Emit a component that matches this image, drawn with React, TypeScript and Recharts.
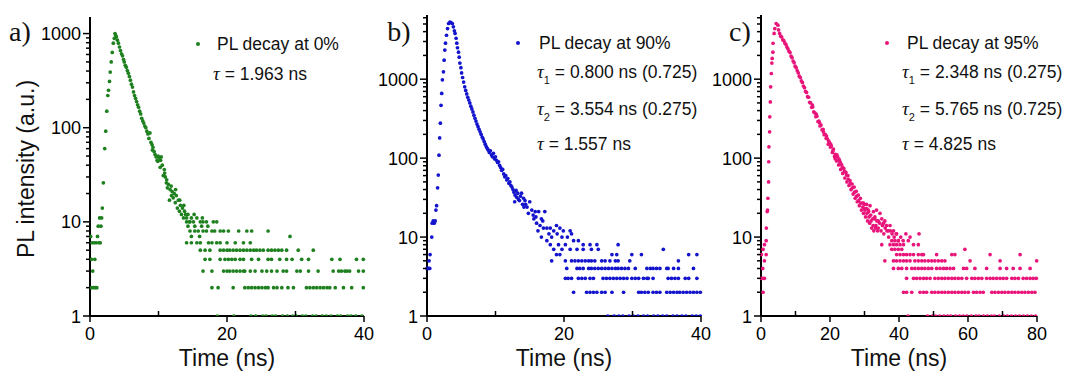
import { ScatterChart, Scatter, XAxis, YAxis } from "recharts"

const sans = '"Liberation Sans", Arial, sans-serif'
const serif = '"Liberation Serif", "Times New Roman", serif'

// axis ticks
const xTicks40 = [0, 10, 20, 30, 40]
const xTicks80 = [0, 10, 20, 30, 40, 50, 60, 70, 80]
const yTicksA = [1, 2, 3, 4, 5, 6, 7, 8, 9, 10, 20, 30, 40, 50, 60, 70, 80, 90, 100, 200, 300, 400, 500, 600, 700, 800, 900, 1000]
const yTicksBC = [...yTicksA, 2000, 3000, 4000, 5000, 6000]
const yLabels = [1, 10, 100, 1000]

// a) 0% -- [time ns, counts]
const curveA: [number, number][] = [
  [0.1, 7], [0.2, 2], [0.2, 4], [0.3, 6], [0.4, 3], [0.5, 2], [0.6, 6], [0.7, 4], [0.8, 2], [0.9, 6],
  [1.0, 2], [1.1, 7], [1.2, 9], [1.3, 6], [1.4, 11], [1.5, 6], [1.6, 9], [1.7, 11], [1.8, 14], [1.95, 26],
  [2.15, 60], [2.3, 92], [2.45, 150], [2.6, 220], [2.7, 250], [2.85, 310], [2.95, 390], [3.1, 500], [3.25, 630], [3.4, 790],
  [3.55, 890], [3.65, 1000], [3.75, 960], [3.85, 920], [4.0, 850], [4.15, 790], [4.3, 720], [4.45, 660], [4.6, 610], [4.75, 580],
  [4.9, 530], [5.0, 500], [5.15, 460], [5.3, 440], [5.45, 405], [5.6, 380], [5.75, 350], [5.9, 320], [6.05, 290], [6.2, 270],
  [6.35, 240], [6.5, 220], [6.65, 205], [6.8, 190], [6.95, 175], [7.1, 165], [7.25, 150], [7.4, 140], [7.55, 126], [7.7, 118],
  [7.85, 112], [8.0, 104], [8.15, 100], [8.3, 92], [8.45, 86], [8.6, 77], [8.75, 88], [8.9, 70], [9.05, 66], [9.2, 62],
  [9.35, 56], [9.5, 52], [9.65, 49], [9.8, 45], [9.95, 50], [10.1, 48], [10.25, 38], [10.4, 49], [10.55, 40], [10.7, 31],
  [10.85, 36], [11.0, 30], [11.15, 26], [11.3, 23], [11.45, 25], [11.6, 17], [11.7, 22], [11.85, 24], [12.0, 21], [12.15, 18],
  [12.3, 20], [12.45, 16], [12.6, 19], [12.75, 14], [12.9, 17], [13.05, 13], [13.2, 15], [13.35, 12], [13.5, 14], [13.65, 11],
  [13.8, 13], [13.95, 12], [14.1, 11], [14.3, 12], [14.5, 10], [14.8, 11], [15.2, 12], [15.6, 11], [16.4, 11],
  [9.1, 58], [9.9, 44], [10.3, 45], [10.9, 33], [11.2, 28], [11.9, 19], [12.5, 22], [13.1, 17], [13.7, 15],
]
const tailA: [number, number[]][] = [
  [10, [14.1, 14.6, 15.1, 16.1, 16.5, 17.0, 18.0, 18.5]],
  [9, [14.3, 15.3, 16.3, 17.2]],
  [8, [14.6, 15.3, 15.8, 16.5, 17.0, 17.8, 18.2, 19.0, 19.5, 20.2, 21.7, 22.9, 23.6, 26.0]],
  [7, [14.8, 16.0, 29.2]],
  [6, [14.1, 14.8, 15.6, 16.1, 17.3, 17.8, 18.5, 19.0, 20.0, 21.2, 22.4, 23.4]],
  [5, [16.1, 16.8, 17.5, 19.0, 19.5, 20.0, 20.4, 20.9, 21.4, 21.9, 22.4, 22.9, 23.4, 23.9, 24.3, 24.8, 25.3, 26.0, 26.5, 27.0, 27.5, 28.0, 28.7, 30.4, 32.6]],
  [4, [16.8, 17.5, 19.0, 19.7, 20.2, 20.7, 21.2, 21.9, 22.4, 23.6, 24.6, 26.0, 26.5, 27.7, 28.7, 29.5, 30.9, 31.9, 35.3, 36.5, 38.9, 39.9]],
  [3, [16.5, 17.8, 19.5, 20.0, 20.4, 20.9, 21.4, 21.9, 22.4, 22.6, 23.4, 24.1, 25.1, 25.8, 26.5, 27.3, 28.2, 28.7, 30.2, 30.7, 31.9, 33.3, 35.5, 36.3, 36.7, 37.2, 37.5, 37.9, 39.2, 39.9]],
  [2, [17.8, 18.7, 20.9, 22.6, 23.1, 23.6, 24.1, 24.6, 25.1, 25.6, 26.0, 26.8, 27.3, 28.0, 28.9, 29.7, 31.6, 32.1, 32.6, 33.1, 33.6, 34.1, 34.6, 35.0, 35.8, 37.0, 38.2, 39.9]],
  [1, [18.6, 21.0, 23.5, 24.2, 25.2, 25.7, 26.6, 27.1, 28.1, 28.8, 29.6, 30.1, 31.0, 31.5, 32.5, 33.0, 33.9, 34.5, 35.2, 36.1, 36.6, 37.6, 38.1, 38.8, 39.7]],
]

// b) 90%
const curveB: [number, number][] = [
  [0.0, 4], [0.2, 4], [0.4, 4], [0.3, 5], [0.45, 6], [0.7, 10], [0.75, 15], [0.9, 16], [1.05, 15], [1.2, 16],
  [1.3, 22], [1.4, 25], [1.55, 42], [1.65, 61], [1.75, 109], [1.85, 180], [1.95, 277], [2.05, 466], [2.15, 660], [2.25, 980],
  [2.4, 1240], [2.5, 1740], [2.6, 2340], [2.7, 2860], [2.85, 3600], [3.0, 4380], [3.15, 5070], [3.35, 5300], [3.5, 5200], [3.7, 5070],
  [3.85, 4600], [4.0, 4100], [4.1, 3800], [4.25, 3300], [4.35, 2860], [4.45, 2500], [4.6, 2200], [4.7, 1900], [4.8, 1600], [4.95, 1400],
  [5.05, 1200], [5.2, 1050], [5.35, 920], [5.5, 800], [5.65, 720], [5.8, 650], [5.95, 590], [6.1, 545], [6.25, 500], [6.4, 455],
  [6.55, 420], [6.7, 385], [6.85, 350], [7.0, 320], [7.15, 295], [7.3, 270], [7.45, 250], [7.6, 232], [7.75, 215], [7.9, 200],
  [8.05, 185], [8.2, 175], [8.35, 162], [8.5, 150], [8.65, 140], [8.8, 133], [8.95, 126], [9.1, 118], [9.25, 124], [9.4, 110],
  [9.55, 104], [9.7, 115], [9.85, 98], [10.0, 104], [10.15, 94], [10.3, 88], [10.45, 90], [10.6, 81], [10.75, 76], [10.9, 70],
  [11.05, 72], [11.2, 63], [11.35, 58], [11.5, 60], [11.65, 53], [11.8, 55], [11.95, 48], [12.1, 50], [12.25, 45], [12.4, 43],
  [12.55, 40], [12.7, 37], [12.8, 28], [12.85, 34], [13.0, 39], [13.1, 32], [13.25, 36], [13.35, 30], [13.5, 29], [13.65, 33],
  [13.8, 36], [13.95, 26], [14.1, 31], [14.3, 29], [14.15, 24], [14.6, 24], [15.0, 28], [15.3, 22], [15.8, 21], [16.3, 21],
  [14.8, 20], [15.5, 19], [16.7, 17], [17.2, 21], [16.0, 15], [16.5, 14], [17.0, 13], [17.5, 13], [18.0, 13], [18.5, 12],
  [18.9, 14], [19.4, 13], [19.9, 12], [20.9, 12], [19.7, 10], [18.2, 10], [16.7, 10], [17.5, 9], [19.2, 8], [21.4, 9],
  [22.1, 9], [22.8, 8], [23.8, 8], [24.8, 8], [20.2, 8], [18.0, 8], [18.5, 7], [19.7, 7], [20.9, 7], [21.9, 7],
  [22.8, 7], [24.0, 7], [25.0, 7], [15.9, 18], [16.9, 16], [14.4, 26], [15.6, 17], [17.8, 11], [19.0, 11], [20.5, 10],
  [21.1, 11], [16.2, 12],
]
const tailB: [number, number[]][] = [
  [8, [27.9]],
  [7, [34.5]],
  [6, [18.9, 19.4, 27.0, 27.7, 29.9, 31.3, 38.2, 39.4]],
  [5, [18.2, 20.2, 21.1, 21.6, 22.1, 22.6, 23.1, 23.6, 24.0, 24.5, 25.5, 26.0, 26.7, 27.5, 27.9, 29.6, 36.7]],
  [4, [20.4, 21.9, 22.3, 22.8, 23.6, 24.0, 24.5, 25.0, 25.5, 26.0, 26.5, 27.0, 27.5, 27.9, 28.4, 28.9, 29.4, 30.4, 32.1, 32.6, 33.0, 33.5, 34.0, 35.0, 35.2, 36.0, 36.7, 38.9]],
  [3, [20.2, 20.6, 21.1, 22.1, 22.6, 23.1, 23.8, 24.3, 25.7, 26.2, 26.7, 27.2, 27.7, 28.2, 28.7, 29.2, 29.9, 30.4, 30.9, 31.6, 32.1, 32.3, 33.0, 35.2, 35.7, 36.2, 36.7, 37.7, 38.2, 39.4]],
  [2, [21.4, 23.3, 23.8, 24.3, 24.8, 25.5, 26.0, 27.0, 28.7, 30.9, 31.3, 31.8, 32.3, 33.0, 33.5, 34.0, 35.0, 35.5, 36.0, 36.5, 36.9, 37.4, 37.9, 38.4, 38.9, 39.4, 39.9]],
  [1, [26.4, 27.3, 28.0, 28.6, 29.5, 30.1, 30.8, 31.6, 32.2, 33.1, 33.7, 34.4, 35.0, 35.9, 36.5, 37.2, 37.8, 38.7, 39.3, 39.9]],
]

// c) 95%
const curveC: [number, number][] = [
  [0.6, 2], [0.1, 3], [0.6, 3], [1.0, 3], [0.5, 4], [1.0, 5], [0.1, 6], [1.5, 6], [0.6, 7], [1.0, 8],
  [1.5, 9], [1.55, 13], [1.8, 21], [1.9, 22], [2.0, 31], [2.2, 50], [2.25, 90], [2.3, 139], [2.5, 215], [2.55, 333],
  [2.7, 515], [2.8, 800], [3.0, 1180], [3.15, 1600], [3.25, 1830], [3.45, 2200], [3.5, 2850], [3.8, 3800], [4.0, 4380], [4.4, 5070],
  [4.9, 4830], [5.1, 4200], [5.4, 3800], [5.7, 3500], [6.0, 3420], [6.3, 3150], [6.6, 3080], [6.9, 2880], [7.2, 2760], [7.5, 2560],
  [7.8, 2420], [8.1, 2260], [8.4, 2180], [8.7, 1960], [9.0, 1870], [9.3, 1700], [9.6, 1620], [9.9, 1460], [10.2, 1400], [10.5, 1280],
  [10.8, 1200], [11.1, 1090], [11.4, 1050], [11.7, 950], [12.0, 910], [12.3, 820], [12.6, 780], [12.9, 700], [13.2, 680], [13.5, 600],
  [13.8, 590], [14.1, 510], [14.4, 500], [14.7, 440], [15.0, 445], [15.3, 385], [15.6, 375], [15.9, 335], [16.2, 340], [16.5, 290],
  [16.8, 295], [17.1, 255], [17.4, 262], [17.7, 228], [18.0, 232], [18.3, 198], [18.6, 200], [18.9, 178], [19.2, 176], [19.5, 150],
  [19.8, 158], [20.1, 138], [20.4, 142], [20.7, 118], [21.0, 130], [21.3, 105], [21.6, 112], [21.9, 92], [22.2, 104], [22.5, 82],
  [22.8, 92], [23.1, 72], [23.4, 82], [23.7, 64], [24.0, 74], [24.3, 56], [24.6, 66], [24.9, 50], [25.2, 60], [25.5, 45],
  [25.8, 52], [26.1, 40], [26.4, 47], [26.7, 35], [27.0, 43], [27.3, 31], [27.6, 38], [27.9, 28], [28.2, 34], [28.5, 25],
  [28.8, 31], [29.1, 22], [29.4, 27], [29.7, 20], [30.0, 26], [30.3, 18], [30.6, 23], [30.9, 16], [31.2, 21], [31.5, 15],
  [31.8, 19], [32.1, 13], [32.4, 17], [32.7, 12], [33.0, 17], [33.3, 14], [33.6, 16], [34.0, 13], [34.4, 15], [34.8, 12],
  [35.2, 14], [35.6, 11], [36.0, 13], [36.5, 12], [37.0, 10], [37.5, 12], [38.0, 11], [38.6, 10], [39.2, 11], [39.8, 9],
  [40.5, 10], [41.2, 9], [42.0, 11], [43.2, 10], [45.8, 11],
  [14.9, 470], [16.0, 360], [17.0, 280], [18.1, 215], [19.0, 190], [19.6, 165], [20.2, 150], [20.9, 125], [21.5, 98], [22.0, 110],
  [22.6, 97], [23.0, 88], [23.6, 76], [24.2, 68], [24.8, 61], [25.3, 54], [25.9, 48], [26.5, 42], [27.1, 37], [27.7, 33],
  [28.3, 29], [28.9, 27], [29.5, 24], [30.1, 22], [30.7, 20], [31.3, 18], [31.9, 16], [32.5, 14], [33.2, 13], [33.8, 12],
  [29.7, 27], [30.6, 26], [31.6, 25], [30.1, 23], [31.1, 22], [32.6, 21], [33.5, 22], [34.5, 20], [33.0, 18], [35.0, 17],
  [35.9, 16], [34.0, 16], [35.5, 15], [36.4, 14], [37.4, 14], [36.9, 12], [38.4, 12], [39.3, 11],
]
const tailC: [number, number[]][] = [
  [9, [37.9, 38.8, 39.8, 42.7]],
  [8, [35.0, 37.4, 38.4, 39.3, 40.3, 41.3, 44.2, 45.6]],
  [7, [37.9, 38.8, 39.8, 40.8, 59.1]],
  [6, [39.3, 40.3, 41.3, 42.2, 43.2, 44.2, 45.6, 46.6, 47.1, 50.9, 55.3, 56.2, 66.4, 75.1]],
  [5, [35.9, 38.4, 39.3, 40.3, 41.3, 42.2, 43.2, 44.6, 45.6, 46.6, 47.5, 48.5, 49.5, 50.4, 51.4, 52.4, 53.3, 60.6, 69.3, 79.9]],
  [4, [38.4, 39.8, 40.8, 42.2, 43.7, 44.6, 45.6, 46.6, 47.5, 48.5, 49.5, 50.9, 51.9, 52.9, 53.8, 54.8, 55.8, 58.7, 59.6, 62.0, 65.4, 69.3, 71.2, 73.1, 75.1, 78.0]],
  [3, [42.2, 44.2, 45.1, 46.1, 47.1, 48.0, 49.0, 50.4, 51.4, 52.4, 53.3, 54.3, 55.3, 56.2, 57.2, 58.2, 59.6, 61.1, 62.0, 63.0, 64.0, 65.4, 66.4, 67.3, 68.3, 69.3, 70.2, 71.2, 72.7, 73.6, 74.6, 76.0, 77.0, 78.0, 78.9, 79.8]],
  [2, [41.3, 42.2, 43.7, 46.1, 47.1, 48.0, 49.5, 50.4, 51.4, 52.4, 53.3, 54.3, 55.3, 56.2, 57.2, 58.2, 59.1, 60.1, 61.6, 62.5, 63.5, 64.4, 66.9, 67.8, 68.8, 69.8, 70.7, 71.7, 72.7, 73.6, 74.6, 75.6, 76.5, 77.5, 78.5, 79.4]],
  [1, [42.6, 48.3, 49.7, 50.6, 51.8, 53.0, 54.1, 55.0, 56.4, 57.5, 58.6, 59.7, 61.0, 62.3, 63.2, 64.5, 65.6, 66.8, 67.7, 69.1, 70.3, 71.4, 72.6, 73.8, 74.9, 76.1, 77.2, 78.4, 79.6]],
]

type Pt = { t: number; n: number }

const toPoints = (curve: [number, number][], tail: [number, number[]][]): Pt[] => [
  ...curve.map(([t, n]) => ({ t, n })),
  ...tail.flatMap(([n, ts]) => ts.map((t) => ({ t, n }))),
]

function YTick(props: any) {
  const { x, y, payload } = props
  const v = payload.value
  const major = yLabels.includes(v)
  return (
    <g>
      <line x1={x} x2={x - (major ? 7 : 4)} y1={y} y2={y} stroke="#000" strokeWidth={1.5} />
      {major && (
        <text x={x - 9} y={y + 6.5} textAnchor="end" fontSize={18} fontFamily={sans} fill="#000">
          {v}
        </text>
      )}
    </g>
  )
}

function XTick(props: any) {
  const { x, y, payload } = props
  const v = payload.value
  const major = v % 20 === 0
  return (
    <g>
      <line x1={x} x2={x} y1={y} y2={major ? y + 6 : y - 5} stroke="#000" strokeWidth={1.5} />
      {major && (
        <text x={x} y={y + 23.5} textAnchor="middle" fontSize={18} fontFamily={sans} fill="#000">
          {v}
        </text>
      )}
    </g>
  )
}

type PanelProps = {
  left: number
  width: number
  axisW: number
  top: number
  right: number
  data: Pt[]
  color: string
  xMax: number
  xTicks: number[]
  yMax: number
  yTicks: number[]
}

function Panel({ left, width, axisW, top, right, data, color, xMax, xTicks, yMax, yTicks }: PanelProps) {
  return (
    <div style={{ position: "absolute", left, top: 0 }}>
      <ScatterChart width={width} height={376} margin={{ top, right, bottom: 0, left: 0 }}>
        <XAxis
          type="number"
          dataKey="t"
          domain={[0, xMax]}
          ticks={xTicks}
          interval={0}
          height={60}
          tickSize={0}
          tickMargin={0}
          tickLine={false}
          axisLine={{ stroke: "#000", strokeWidth: 2 }}
          tick={(p: any) => <XTick {...p} />}
        />
        <YAxis
          type="number"
          dataKey="n"
          scale="log"
          domain={[1, yMax]}
          allowDataOverflow
          ticks={yTicks}
          interval={0}
          width={axisW}
          tickSize={0}
          tickMargin={0}
          tickLine={false}
          axisLine={{ stroke: "#000", strokeWidth: 2 }}
          tick={(p: any) => <YTick {...p} />}
        />
        <Scatter
          data={data}
          fill={color}
          isAnimationActive={false}
          shape={(p: any) => <circle cx={p.cx} cy={p.cy} r={1.85} fill={color} />}
        />
      </ScatterChart>
    </div>
  )
}

const Tau = ({ sub }: { sub?: string }) => (
  <>
    <i style={{ fontFamily: serif, fontSize: 19 }}>τ</i>
    {sub && <span style={{ fontSize: 11, position: "relative", top: 6 }}>{sub}</span>}
  </>
)

function Line({ left, cy, children }: { left: number; cy: number; children: React.ReactNode }) {
  return (
    <div
      style={{
        position: "absolute",
        left,
        top: cy - 11,
        height: 22,
        lineHeight: "22px",
        fontSize: 17.5,
        fontFamily: sans,
        color: "#111",
        whiteSpace: "nowrap",
      }}
    >
      {children}
    </div>
  )
}

function Marker({ x, y, color }: { x: number; y: number; color: string }) {
  return (
    <div
      style={{ position: "absolute", left: x - 2, top: y - 2, width: 4, height: 4, borderRadius: 2, background: color }}
    />
  )
}

function Centered({ x, y, size, font, children, rotate }: any) {
  return (
    <div
      style={{
        position: "absolute",
        left: x,
        top: y,
        transform: `translate(-50%, -50%)${rotate ? " rotate(-90deg)" : ""}`,
        fontSize: size,
        fontFamily: font,
        lineHeight: `${size + 4}px`,
        whiteSpace: "nowrap",
        color: "#111",
      }}
    >
      {children}
    </div>
  )
}

const green = "#1e801e"
const blue = "#1414cc"
const pink = "#e8157a"

export default function App() {
  return (
    <div style={{ position: "absolute", left: 0, top: 0, width: 1072, height: 376, background: "#fff", overflow: "hidden" }}>
      <Panel left={0} width={380} axisW={90} top={17} right={16} data={toPoints(curveA, tailA)} color={green} xMax={40} xTicks={xTicks40} yMax={1500} yTicks={yTicksA} />
      <Panel left={375} width={345} axisW={52} top={15} right={19} data={toPoints(curveB, tailB)} color={blue} xMax={40} xTicks={xTicks40} yMax={6500} yTicks={yTicksBC} />
      <Panel left={705} width={367} axisW={56} top={15} right={35} data={toPoints(curveC, tailC)} color={pink} xMax={80} xTicks={xTicks80} yMax={6500} yTicks={yTicksBC} />

      <Centered x={26} y={169} size={23} font={sans} rotate>PL intensity (a.u.)</Centered>
      <Centered x={227} y={358} size={23} font={sans}>Time (ns)</Centered>
      <Centered x={564} y={358} size={23} font={sans}>Time (ns)</Centered>
      <Centered x={899} y={358} size={23} font={sans}>Time (ns)</Centered>

      <Centered x={20} y={32} size={28} font={serif}>a)</Centered>
      <Centered x={399} y={32} size={28} font={serif}>b)</Centered>
      <Centered x={740} y={32} size={28} font={serif}>c)</Centered>

      <Marker x={198} y={44} color={green} />
      <Line left={217} cy={44}>PL decay at 0%</Line>
      <Line left={213} cy={74}><Tau /> = 1.963 ns</Line>

      <Marker x={518} y={43} color={blue} />
      <Line left={539} cy={43}>PL decay at 90%</Line>
      <Line left={537} cy={72}><Tau sub="1" /> = 0.800 ns (0.725)</Line>
      <Line left={537} cy={109}><Tau sub="2" /> = 3.554 ns (0.275)</Line>
      <Line left={537} cy={144}><Tau /> = 1.557 ns</Line>

      <Marker x={887} y={43} color={pink} />
      <Line left={907} cy={43}>PL decay at 95%</Line>
      <Line left={902} cy={72}><Tau sub="1" /> = 2.348 ns (0.275)</Line>
      <Line left={902} cy={109}><Tau sub="2" /> = 5.765 ns (0.725)</Line>
      <Line left={902} cy={144}><Tau /> = 4.825 ns</Line>
    </div>
  )
}
